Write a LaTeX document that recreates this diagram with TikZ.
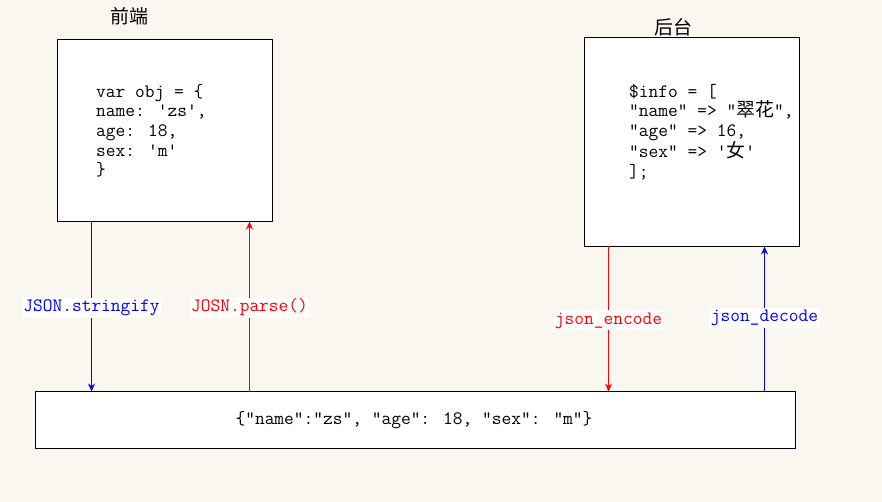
\documentclass[tikz,border=0pt]{standalone}
\usepackage{fontspec}
\newfontfamily\cjk{Noto Sans CJK SC}
\usetikzlibrary{arrows.meta}
\definecolor{bg}{HTML}{FAF6F0}
\definecolor{myblue}{HTML}{0000FF}
\definecolor{myred}{HTML}{FF0000}
\newcommand{\codefont}{\fontsize{18.9}{19.6}\selectfont\ttfamily}
\begin{document}
\begin{tikzpicture}[x=1pt,y=-1pt,
  box/.style={draw=black,line width=1pt,fill=white},
  code/.style={anchor=north west,inner sep=0pt,align=left,font=\codefont},
  title/.style={font=\cjk\fontsize{19}{19}\selectfont,inner sep=0pt},
  lab/.style={fill=white,inner xsep=1.5pt,inner ysep=0pt,font=\codefont,text height=14pt,text depth=6pt},
  conn/.style={line width=1pt,-{Stealth[length=8pt,width=7pt]}}]
\useasboundingbox[fill=bg] (0,0) rectangle (882,502);
% boxes
\draw[box] (57.5,39.5) rectangle (272.5,221.5);
\draw[box] (584.5,37.5) rectangle (799.5,246.5);
\draw[box] (35.5,391.5) rectangle (795.5,448.5);
\coordinate (fA) at (91.5,221.5);
\coordinate (fB) at (249.5,221.5);
\coordinate (bA) at (608.5,246.5);
\coordinate (bB) at (764.5,246.5);
\coordinate (mA) at (91.5,391.5);
\coordinate (mB) at (249.5,391.5);
\coordinate (mC) at (608.5,391.5);
\coordinate (mD) at (764.5,391.5);
% titles
\node[title] (t1) at (129,16) {前端};
\node[title] (t2) at (673,27) {后台};
% code
\node[code] (c1) at (96,84) {var obj = \{\\name: 'zs',\\age: 18,\\sex: 'm'\\\}};
\node[code] (c2) at (629,84) {\$info = [\\"name" => "{\cjk 翠花}",\\"age" => 16,\\"sex" => '{\cjk 女}'\\];};
\node[font=\codefont,inner sep=0pt] (c3) at (414,420) {\{"name":"zs", "age": 18, "sex": "m"\}};
% connectors
\draw[conn,myblue] (fA) -- (mA);
\draw[conn,myred] (mB) -- (fB);
\draw[conn,myred] (bA) -- (mC);
\draw[conn,myblue] (mD) -- (bB);
% labels
\node[lab,text=myblue] (l1) at (91.5,307.5) {JSON.stringify};
\node[lab,text=myred] (l2) at (249.5,307.5) {JOSN.parse()};
\node[lab,text=myred] (l3) at (608.5,320) {json\_encode};
\node[lab,text=myblue] (l4) at (764.5,317.5) {json\_decode};
\end{tikzpicture}
\end{document}
